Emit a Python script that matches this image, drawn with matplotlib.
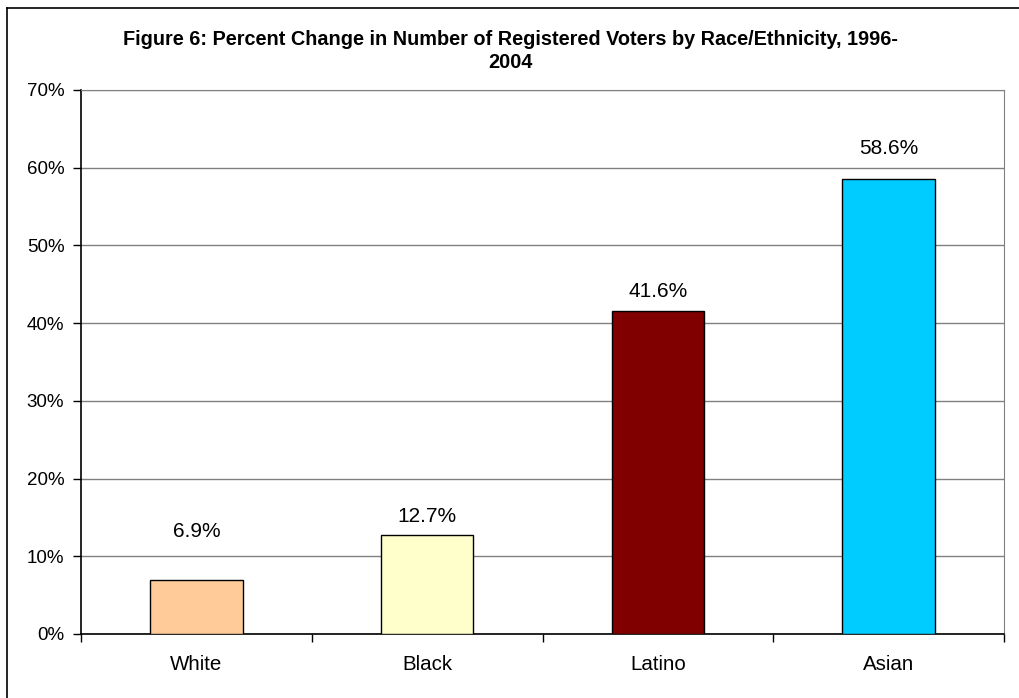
import matplotlib
matplotlib.use("Agg")
import matplotlib.pyplot as plt
from matplotlib.ticker import PercentFormatter, FixedLocator

plt.rcParams['font.family'] = ['Liberation Sans', 'DejaVu Sans']

# Data
groups = ["White", "Black", "Latino", "Asian"]
pct_change = [6.9, 12.7, 41.6, 58.6]
bar_colors = ["#FFCC99", "#FFFFCC", "#800000", "#00CCFF"]
y_ticks = [0, 10, 20, 30, 40, 50, 60, 70]

# Label gaps above each bar, in points
label_gaps = [28.5, 6.5, 7, 14.5]

fig = plt.figure(figsize=(10.2, 6.98), dpi=100)
ax = fig.add_axes([81 / 1020, 1 - 634 / 698, (1004 - 81) / 1020, (634 - 90) / 698])

x = range(len(groups))
bars = ax.bar(x, pct_change, width=0.4, color=bar_colors, edgecolor="black",
              linewidth=1.0, zorder=3)

for b, v, gap in zip(bars, pct_change, label_gaps):
    ax.annotate(f"{v:.1f}%", (b.get_x() + b.get_width() / 2, v),
                xytext=(0, gap), textcoords="offset points",
                ha="center", va="bottom", fontsize=15, color="black")

ax.set_xlim(-0.5, len(groups) - 0.5)
ax.set_ylim(0, 70)
ax.set_yticks(y_ticks)
ax.yaxis.set_major_formatter(PercentFormatter(decimals=0))
ax.yaxis.grid(True, color="#808080", linewidth=1.0, zorder=0)

# Category labels centered, ticks at category boundaries
ax.set_xticks(list(x))
ax.set_xticklabels(groups)
ax.tick_params(axis="x", length=0, pad=15, labelsize=14.8)
ax.xaxis.set_minor_locator(FixedLocator([i - 0.5 for i in range(len(groups) + 1)]))
ax.tick_params(axis="x", which="minor", length=6, width=1.0, color="black")
ax.tick_params(axis="y", length=6, width=1.0, pad=6, labelsize=13.5)

for side in ["left", "bottom"]:
    ax.spines[side].set_color("black")
    ax.spines[side].set_linewidth(1.2)
ax.spines["top"].set_color("#808080")
ax.spines["right"].set_color("#808080")

fig.text(0.5, 1 - 51 / 698,
         "Figure 6: Percent Change in Number of Registered Voters by Race/Ethnicity, 1996-\n2004",
         ha="center", va="center", fontsize=14.3, fontweight="bold", linespacing=1.3)

# Chart frame along the top and left edges
fig.add_artist(plt.Line2D([7.5 / 1020, 1], [1 - 7.5 / 698, 1 - 7.5 / 698],
                          transform=fig.transFigure, color="black", linewidth=1.2))
fig.add_artist(plt.Line2D([7.5 / 1020, 7.5 / 1020], [0, 1 - 7.5 / 698],
                          transform=fig.transFigure, color="black", linewidth=1.2))

fig.savefig("out.png", dpi=100)
